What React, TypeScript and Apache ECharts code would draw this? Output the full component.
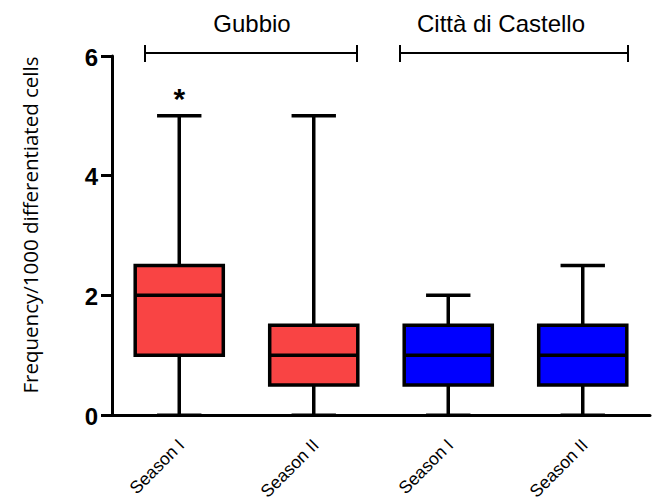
import React, { useEffect, useRef } from "react";
import * as echarts from "echarts";

const categories = ["Season I", "Season II", "Season I", "Season II"];
const mins = [0, 0, 0, 0];
const q1s = [1, 0.5, 0.5, 0.5];
const medians = [2, 1, 1, 1];
const q3s = [2.5, 1.5, 1.5, 1.5];
const maxs = [5, 5, 2, 2.5];
const boxColors = ["#F94444", "#F94444", "#0000FF", "#0000FF"];
const marks = ["*", "", "", ""];
const yTicks = [0, 2, 4, 6];
const groups = [
  { name: "Gubbio", x1: 145, x2: 357, cx: 252 },
  { name: "Città di Castello", x1: 400, x2: 628, cx: 501 },
];
const yName = "Frequency/1000 differentiated cells";

export default function App() {
  const ref = useRef<HTMLDivElement>(null);
  useEffect(() => {
    if (!ref.current) return;
    const chart = echarts.init(ref.current, undefined, { renderer: "svg" });
    const data = categories.map((_, i) => [i, mins[i], q1s[i], medians[i], q3s[i], maxs[i]]);
    const graphic: any[] = [];
    groups.forEach((g) => {
      graphic.push({
        type: "text",
        x: g.cx,
        y: 23,
        style: { text: g.name, fontSize: 24, fontFamily: "Liberation Sans", fill: "#000", align: "center", verticalAlign: "middle" },
      });
      graphic.push({ type: "line", shape: { x1: g.x1, y1: 53, x2: g.x2, y2: 53 }, style: { stroke: "#000", lineWidth: 2 } });
      graphic.push({ type: "line", shape: { x1: g.x1, y1: 45, x2: g.x1, y2: 62 }, style: { stroke: "#000", lineWidth: 2 } });
      graphic.push({ type: "line", shape: { x1: g.x2, y1: 45, x2: g.x2, y2: 62 }, style: { stroke: "#000", lineWidth: 2 } });
    });
    graphic.push({
      type: "text",
      x: 30,
      y: 225,
      rotation: Math.PI / 2,
      style: { text: yName, fontSize: 20.5, fontFamily: "Open Sans", fill: "#000", align: "center", verticalAlign: "middle" },
    });
    chart.setOption({
      animation: false,
      textStyle: { fontFamily: "Liberation Sans" },
      grid: { left: 112, right: 7, top: 56, bottom: 87 },
      xAxis: {
        type: "category",
        data: categories,
        boundaryGap: true,
        axisLine: { lineStyle: { color: "#000", width: 3 } },
        axisTick: { alignWithLabel: true, length: 9, lineStyle: { color: "#000", width: 3 } },
        axisLabel: { show: false },
        splitLine: { show: false },
      },
      yAxis: {
        type: "value",
        min: 0,
        max: 6,
        interval: 2,
        axisLine: { show: true, lineStyle: { color: "#000", width: 3 } },
        axisTick: { show: true, length: 11, lineStyle: { color: "#000", width: 3 } },
        axisLabel: { show: false },
        splitLine: { show: false },
      },
      series: [
        {
          type: "custom",
          data,
          encode: { x: 0, y: [1, 2, 3, 4, 5] },
          z: 1,
          clip: false,
          renderItem: (params: any, api: any) => {
            const i = api.value(0);
            const band = api.size([1, 0])[0];
            const bw = band * 0.655;
            const cw = band * 0.33;
            const pMin = api.coord([i, api.value(1)]);
            const pQ1 = api.coord([i, api.value(2)]);
            const pMed = api.coord([i, api.value(3)]);
            const pQ3 = api.coord([i, api.value(4)]);
            const pMax = api.coord([i, api.value(5)]);
            const cx = pMin[0];
            const ls = { stroke: "#000", lineWidth: 3.5 };
            const children: any[] = [
              { type: "line", shape: { x1: cx, y1: pQ3[1], x2: cx, y2: pMax[1] }, style: ls },
              { type: "line", shape: { x1: cx, y1: pMin[1], x2: cx, y2: pQ1[1] }, style: ls },
              { type: "line", shape: { x1: cx - cw / 2, y1: pMax[1], x2: cx + cw / 2, y2: pMax[1] }, style: ls },
              { type: "line", shape: { x1: cx - cw / 2, y1: pMin[1], x2: cx + cw / 2, y2: pMin[1] }, style: { stroke: "#000", lineWidth: 3 } },
              {
                type: "rect",
                shape: { x: cx - bw / 2, y: pQ3[1], width: bw, height: pQ1[1] - pQ3[1] },
                style: { fill: boxColors[params.dataIndex], stroke: "#000", lineWidth: 3.5 },
              },
              { type: "line", shape: { x1: cx - bw / 2, y1: pMed[1], x2: cx + bw / 2, y2: pMed[1] }, style: ls },
            ];
            return { type: "group", children };
          },
        },
      ],
    });
    yTicks.forEach((v) => {
      const py = chart.convertToPixel({ yAxisIndex: 0 }, v) as number;
      graphic.push({
        type: "text",
        x: 98,
        y: py + 1,
        style: { text: String(v), fontSize: 24, fontWeight: "bold", fontFamily: "Liberation Sans", fill: "#000", align: "right", verticalAlign: "middle" },
      });
    });
    categories.forEach((c, i) => {
      const p = chart.convertToPixel({ gridIndex: 0 }, [i, 0]) as number[];
      graphic.push({
        type: "text",
        x: p[0] + 2,
        y: p[1] + 27,
        rotation: Math.PI / 4,
        style: { text: c, fontSize: 17.5, fontFamily: "Liberation Sans", fill: "#000", align: "right", verticalAlign: "middle" },
      });
      if (marks[i]) {
        const q = chart.convertToPixel({ gridIndex: 0 }, [i, maxs[i]]) as number[];
        graphic.push({
          type: "text",
          x: q[0],
          y: q[1] - 17,
          style: { text: marks[i], fontSize: 30, fontWeight: "bold", fontFamily: "Liberation Sans", fill: "#000", align: "center", verticalAlign: "middle" },
        });
      }
    });
    chart.setOption({ graphic });
    return () => chart.dispose();
  }, []);
  return <div ref={ref} style={{ position: "absolute", left: 0, top: 0, width: 657, height: 502 }} />;
}
